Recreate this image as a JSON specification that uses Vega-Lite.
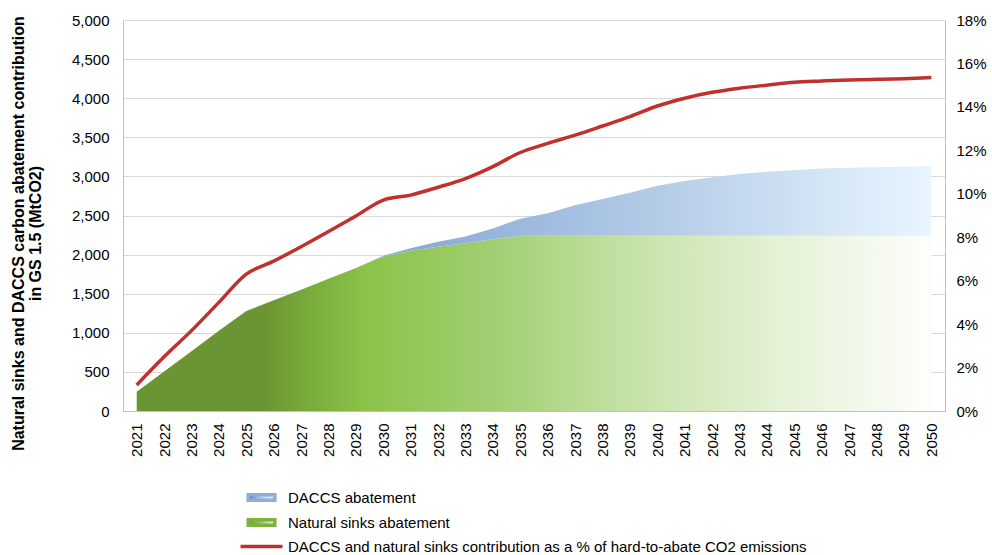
{
  "$schema": "https://vega.github.io/schema/vega-lite/v6.json",
  "width": 822,
  "height": 391,
  "autosize": {"type": "none"},
  "padding": {"left": 123, "top": 20, "right": 47, "bottom": 144},
  "config": {
    "font": "Liberation Sans",
    "view": {"stroke": "#d9d9d9"},
    "axis": {"labelFontSize": 15, "labelColor": "#000000", "ticks": false, "domainColor": "#c0c0c0", "gridColor": "#d9d9d9", "labelFont": "Liberation Sans"}
  },
  "data": {
    "values": [
      {"year": "2021", "natural": 247, "daccs": 0, "pct": 0.012},
      {"year": "2022", "natural": 505, "daccs": 0, "pct": 0.025},
      {"year": "2023", "natural": 765, "daccs": 0, "pct": 0.037},
      {"year": "2024", "natural": 1025, "daccs": 0, "pct": 0.050},
      {"year": "2025", "natural": 1280, "daccs": 0, "pct": 0.063},
      {"year": "2026", "natural": 1415, "daccs": 0, "pct": 0.069},
      {"year": "2027", "natural": 1550, "daccs": 0, "pct": 0.0756},
      {"year": "2028", "natural": 1690, "daccs": 0, "pct": 0.0826},
      {"year": "2029", "natural": 1830, "daccs": 0, "pct": 0.0898},
      {"year": "2030", "natural": 1975, "daccs": 10, "pct": 0.0971},
      {"year": "2031", "natural": 2050, "daccs": 30, "pct": 0.0994},
      {"year": "2032", "natural": 2100, "daccs": 65, "pct": 0.103},
      {"year": "2033", "natural": 2145, "daccs": 85, "pct": 0.107},
      {"year": "2034", "natural": 2195, "daccs": 140, "pct": 0.1125},
      {"year": "2035", "natural": 2240, "daccs": 220, "pct": 0.119},
      {"year": "2036", "natural": 2240, "daccs": 290, "pct": 0.1232},
      {"year": "2037", "natural": 2240, "daccs": 390, "pct": 0.127},
      {"year": "2038", "natural": 2240, "daccs": 470, "pct": 0.1312},
      {"year": "2039", "natural": 2240, "daccs": 550, "pct": 0.1355},
      {"year": "2040", "natural": 2240, "daccs": 640, "pct": 0.1404},
      {"year": "2041", "natural": 2240, "daccs": 700, "pct": 0.144},
      {"year": "2042", "natural": 2240, "daccs": 750, "pct": 0.1467},
      {"year": "2043", "natural": 2240, "daccs": 790, "pct": 0.1486},
      {"year": "2044", "natural": 2240, "daccs": 820, "pct": 0.150},
      {"year": "2045", "natural": 2240, "daccs": 840, "pct": 0.1513},
      {"year": "2046", "natural": 2240, "daccs": 860, "pct": 0.1519},
      {"year": "2047", "natural": 2240, "daccs": 870, "pct": 0.1524},
      {"year": "2048", "natural": 2240, "daccs": 878, "pct": 0.1527},
      {"year": "2049", "natural": 2240, "daccs": 885, "pct": 0.153},
      {"year": "2050", "natural": 2240, "daccs": 893, "pct": 0.1535}
    ]
  },
  "encoding": {
    "x": {
      "field": "year", "type": "ordinal",
      "axis": {"title": null, "labelAngle": -90, "labelPadding": 12, "domainColor": "#c0c0c0"}
    }
  },
  "layer": [
    {
      "transform": [{"fold": ["natural", "daccs"], "as": ["series", "value"]}],
      "mark": {"type": "area", "stroke": null},
      "encoding": {
        "y": {
          "field": "value", "type": "quantitative", "stack": "zero",
          "scale": {"domain": [0, 5000], "nice": false},
          "axis": {
            "values": [0, 500, 1000, 1500, 2000, 2500, 3000, 3500, 4000, 4500, 5000],
            "format": ",.0f", "grid": true, "labelPadding": 14,
            "title": ["Natural sinks and DACCS carbon abatement contribution", "in GS 1.5 (MtCO2)"],
            "titleFontSize": 16, "titleFontWeight": "bold", "titleColor": "#000000",
            "titlePadding": 28, "titleY": 213, "titleLineHeight": 17
          }
        },
        "detail": {"field": "series"},
        "order": {"field": "series", "sort": "descending"},
        "fill": {
          "condition": {
            "test": "datum.series === 'daccs'",
            "value": {
              "gradient": "linear", "x1": 0, "x2": 1, "y1": 0, "y2": 0,
              "stops": [
                {"offset": 0, "color": "#7c9ccc"},
                {"offset": 0.31, "color": "#86a6d2"},
                {"offset": 0.48, "color": "#9bb8dd"},
                {"offset": 0.66, "color": "#b5cce7"},
                {"offset": 0.83, "color": "#cfe1f3"},
                {"offset": 1, "color": "#e8f5ff"}
              ]
            }
          },
          "value": {
            "gradient": "linear", "x1": 0, "x2": 1, "y1": 0, "y2": 0,
            "stops": [
              {"offset": 0, "color": "#6b9432"},
              {"offset": 0.16, "color": "#6b9432"},
              {"offset": 0.22, "color": "#7aac3c"},
              {"offset": 0.29, "color": "#8bc34a"},
              {"offset": 0.45, "color": "#a2ce72"},
              {"offset": 0.62, "color": "#c5e2a6"},
              {"offset": 0.8, "color": "#e3f1d4"},
              {"offset": 1, "color": "#fdfefb"}
            ]
          }
        }
      }
    },
    {
      "mark": {"type": "line", "strokeWidth": 3.5, "interpolate": "monotone"},
      "encoding": {
        "y": {
          "field": "pct", "type": "quantitative",
          "scale": {"domain": [0, 0.18], "nice": false},
          "axis": {
            "orient": "right", "title": null, "grid": false, "format": ".0%",
            "values": [0, 0.02, 0.04, 0.06, 0.08, 0.1, 0.12, 0.14, 0.16, 0.18],
            "labelPadding": 11
          }
        },
        "color": {
          "datum": "DACCS and natural sinks contribution as a % of hard-to-abate CO2 emissions",
          "scale": {
            "domain": ["DACCS abatement", "Natural sinks abatement", "DACCS and natural sinks contribution as a % of hard-to-abate CO2 emissions"],
            "range": ["#8eaed8", "#7fb13e", "#c0302e"]
          },
          "legend": {
            "title": null, "orient": "none", "legendX": 129, "legendY": 468,
            "labelFontSize": 15, "labelColor": "#000000", "labelLimit": 900,
            "rowPadding": 4, "symbolSize": 225, "labelOffset": 17,
            "symbolStrokeWidth": 3.5,
            "encoding": {
              "symbols": {
                "shape": {
                  "condition": {"test": "datum.value === 'DACCS and natural sinks contribution as a % of hard-to-abate CO2 emissions'", "value": "M-2.8,0H2.8"},
                  "value": "M-1.77,-0.37H1.77V0.37H-1.77Z"
                },
                "fill": {
                  "condition": [
                    {"test": "datum.value === 'DACCS abatement'", "value": {"gradient": "linear", "x1": 0, "x2": 1, "y1": 0, "y2": 0, "stops": [{"offset": 0, "color": "#4a77b4"}, {"offset": 0.4, "color": "#a9c3e4"}, {"offset": 1, "color": "#edf5fd"}]}},
                    {"test": "datum.value === 'Natural sinks abatement'", "value": {"gradient": "linear", "x1": 0, "x2": 1, "y1": 0, "y2": 0, "stops": [{"offset": 0, "color": "#6b9432"}, {"offset": 0.4, "color": "#8bc34a"}, {"offset": 1, "color": "#f2f9ea"}]}}
                  ],
                  "value": "transparent"
                },
                "stroke": {
                  "condition": [
                    {"test": "datum.value === 'DACCS abatement'", "value": {"gradient": "linear", "x1": 0, "x2": 1, "y1": 0, "y2": 0, "stops": [{"offset": 0, "color": "#4a77b4"}, {"offset": 0.4, "color": "#a9c3e4"}, {"offset": 1, "color": "#edf5fd"}]}},
                    {"test": "datum.value === 'Natural sinks abatement'", "value": {"gradient": "linear", "x1": 0, "x2": 1, "y1": 0, "y2": 0, "stops": [{"offset": 0, "color": "#6b9432"}, {"offset": 0.4, "color": "#8bc34a"}, {"offset": 1, "color": "#f2f9ea"}]}}
                  ],
                  "value": "#c0302e"
                },
                "opacity": {"value": 1}
              }
            }
          }
        }
      }
    }
  ],
  "resolve": {"scale": {"y": "independent"}}
}
